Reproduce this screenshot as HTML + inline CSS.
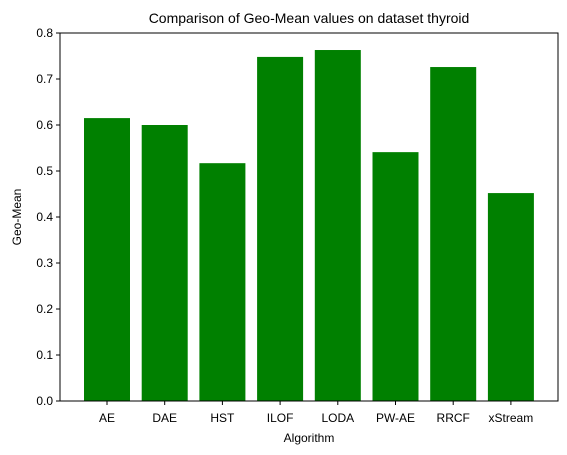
<!DOCTYPE html>
<html><head><meta charset="utf-8"><style>
body{margin:0;background:#fff;}
svg{display:block;font-family:"Liberation Sans","DejaVu Sans",sans-serif;}
</style></head><body>
<svg id="chart" width="567" height="455">
<text x="309" y="23" font-size="14" text-anchor="middle">Comparison of Geo-Mean values on dataset thyroid</text>
<g id="bars"></g>
<g id="yticks"></g>
<g id="xticks"></g>
<rect x="60" y="33" width="498" height="368" fill="none" stroke="#000" stroke-width="1"/>
<text x="309" y="442" font-size="12" text-anchor="middle">Algorithm</text>
<text transform="translate(21,217) rotate(-90)" font-size="12" text-anchor="middle">Geo-Mean</text>
</svg>
<script>
const categories=["AE","DAE","HST","ILOF","LODA","PW-AE","RRCF","xStream"];
const values=[0.615,0.600,0.517,0.748,0.763,0.541,0.726,0.452];
const yTicks=[0.0,0.1,0.2,0.3,0.4,0.5,0.6,0.7,0.8];
const NS="http://www.w3.org/2000/svg";
const y=v=>401-v/0.8*368;
const step=57.7;
const x=i=>107+step*i;
const bw=46;
function mk(t,a,p){const e=document.createElementNS(NS,t);for(const k in a)e.setAttribute(k,a[k]);p.appendChild(e);return e;}
const gb=document.getElementById('bars'),gy=document.getElementById('yticks'),gx=document.getElementById('xticks');
values.forEach((v,i)=>{
 const r=mk('rect',{x:x(i)-bw/2,y:y(v),width:bw,height:401-y(v),fill:'#008000'},gb);
 
 
});
yTicks.forEach(t=>{
 mk('line',{x1:56,x2:60,y1:y(t),y2:y(t),stroke:'#000'},gy);
 const tx=mk('text',{x:53,y:y(t)+4,'font-size':12,'text-anchor':'end'},gy);
 tx.textContent=t.toFixed(1);
 
 
});
categories.forEach((c,i)=>{
 mk('line',{x1:x(i),x2:x(i),y1:401,y2:405,stroke:'#000'},gx);
 const tx=mk('text',{x:x(i),y:422,'font-size':12,'text-anchor':'middle'},gx);
 tx.textContent=c;
 
 
});
</script>
</body></html>
